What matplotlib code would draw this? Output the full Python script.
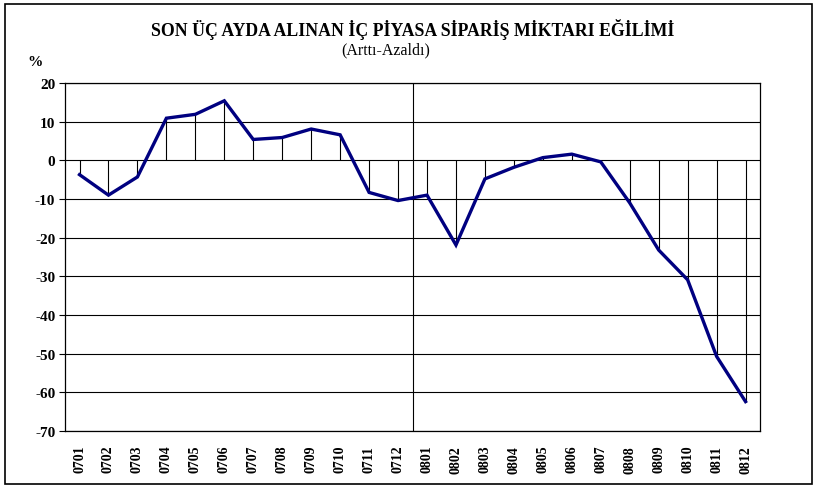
import matplotlib
matplotlib.use("Agg")
import matplotlib.pyplot as plt
from matplotlib.patches import Rectangle

months = ["0701", "0702", "0703", "0704", "0705", "0706", "0707", "0708",
          "0709", "0710", "0711", "0712", "0801", "0802", "0803", "0804",
          "0805", "0806", "0807", "0808", "0809", "0810", "0811", "0812"]
values = [-3.7, -9.0, -4.3, 10.9, 11.9, 15.4, 5.4, 5.9,
          8.1, 6.6, -8.3, -10.4, -9.0, -21.9, -4.8, -1.8,
          0.7, 1.6, -0.4, -11.0, -23.2, -30.9, -50.7, -62.4]
yticks = [20, 10, 0, -10, -20, -30, -40, -50, -60, -70]

plt.rcParams['font.family'] = ['Liberation Serif', 'DejaVu Serif']

fig = plt.figure(figsize=(8.19, 4.89), dpi=100)
ax = fig.add_axes([0.0794, 0.1166, 0.8486, 0.7116])

x = list(range(len(months)))
# grid lines
for t in yticks:
    ax.axhline(t, color='black', lw=0.8, zorder=1)
# drop lines to zero
ax.vlines(x, 0, values, colors='black', lw=0.8, zorder=2)
# year separator
ax.axvline(11.5, color='black', lw=0.8, zorder=2)
ax.plot(x, values, color='#000080', lw=2.4, zorder=3, solid_joinstyle='miter')

ax.set_xlim(-0.5, len(months) - 0.5)
ax.set_ylim(-70, 20)
ax.set_yticks(yticks)
ax.set_yticklabels([str(t) for t in yticks], fontsize=11, fontweight='bold')
ax.set_xticks(x)
ax.set_xticklabels(months, rotation=90, fontsize=10, fontweight='bold')
ax.tick_params(axis='x', length=0, pad=10)
ax.tick_params(axis='y', length=4, width=0.8, pad=3)
for s in ax.spines.values():
    s.set_color('black')
    s.set_linewidth(0.9)

fig.text(0.5 * (65 + 760) / 819, 1 - 30 / 489, 'SON ÜÇ AYDA ALINAN İÇ PİYASA SİPARİŞ MİKTARI EĞİLİMİ',
         ha='center', va='center', fontsize=12.8, fontweight='bold')
fig.text(386 / 819, 1 - 50 / 489, '(Arttı-Azaldı)',
         ha='center', va='center', fontsize=11.5)
fig.text(35 / 819, 1 - 62 / 489, '%', ha='center', va='center', fontsize=11, fontweight='bold')

fig.patches.append(Rectangle((5 / 819, 4 / 489), 807 / 819, 480 / 489, transform=fig.transFigure,
                             fill=False, edgecolor='black', lw=1.2))

fig.savefig('out.png', dpi=100)
